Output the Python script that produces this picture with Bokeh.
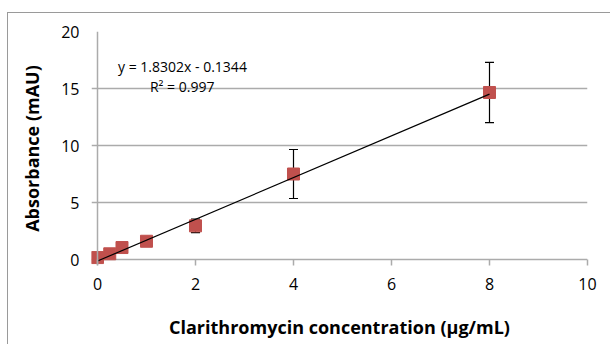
from bokeh.plotting import figure
from bokeh.layouts import column
from bokeh.models import ColumnDataSource, Whisker, TeeHead, Label, Range1d, FixedTicker, Span
from bokeh.embed import file_html
from bokeh.resources import INLINE

# Data
conc = [0, 0.25, 0.5, 1, 2, 4, 8]
absorbance = [0.17, 0.5, 1.05, 1.6, 2.95, 7.5, 14.65]
err = [0.1, 0.1, 0.15, 0.2, 0.6, 2.15, 2.65]
x_ticks = [0, 2, 4, 6, 8, 10]
y_ticks = [0, 5, 10, 15, 20]
slope = 1.8302
intercept = -0.1344
fit_x = [0, 8]
eq_text = "y = 1.8302x - 0.1344"
r2_text = "R² = 0.997"

FONT = "Open Sans"
GRID = "#ABABAB"

# ranges padded by ~6px below/left of zero so the markers at zero are not clipped
p = figure(width=602, height=331, output_backend="svg", toolbar_location=None,
           x_range=Range1d(-0.1224, 10), y_range=Range1d(-0.526, 20),
           min_border_left=83, min_border_right=23, min_border_top=18, min_border_bottom=79)
p.outline_line_color = None
p.background_fill_color = "white"
p.border_fill_color = "white"

p.xgrid.grid_line_color = None
p.ygrid.grid_line_color = GRID
p.ygrid.grid_line_width = 1.5

for ax in (p.xaxis[0], p.yaxis[0]):
    ax.axis_line_color = None
    ax.major_tick_out = 0
    ax.minor_tick_line_color = None
    ax.major_label_text_font = FONT
    ax.major_label_text_font_size = "16px"
    ax.major_label_text_color = "black"
    ax.axis_label_text_font = FONT
    ax.axis_label_text_font_style = "bold"
    ax.axis_label_text_font_size = "18px"
    ax.axis_label_text_color = "black"

p.xaxis.major_tick_in = 6
p.xaxis.major_tick_line_color = GRID
p.xaxis.major_tick_line_width = 1.5
p.yaxis.major_tick_line_color = None

p.xaxis.ticker = FixedTicker(ticks=x_ticks)
p.yaxis.ticker = FixedTicker(ticks=y_ticks)
p.xaxis.major_label_standoff = 12
p.yaxis.major_label_standoff = 12
p.xaxis.axis_label = "Clarithromycin concentration (µg/mL)"
p.yaxis.axis_label = "Absorbance (mAU)"
p.xaxis.axis_label_standoff = 22
p.yaxis.axis_label_standoff = 14

# vertical axis line at x = 0
p.add_layout(Span(location=0, dimension="height", line_color=GRID, line_width=1.5))

upper = [a + e for a, e in zip(absorbance, err)]
lower = [a - e for a, e in zip(absorbance, err)]
src = ColumnDataSource(data=dict(x=conc, y=absorbance, upper=upper, lower=lower))

w = Whisker(source=src, base="x", upper="upper", lower="lower",
            line_color="black", line_width=1.2,
            upper_head=TeeHead(size=9, line_color="black", line_width=1.2),
            lower_head=TeeHead(size=9, line_color="black", line_width=1.2))
p.add_layout(w)

fit_y = [slope * x + intercept for x in fit_x]

p.scatter("x", "y", source=src, marker="square", size=12,
          fill_color="#C0504D", line_color="#C0504D")

p.line(fit_x, fit_y, line_color="black", line_width=1.2)

p.add_layout(Label(x=0.42, y=16.9, text=eq_text, text_font=FONT, text_font_size="14px",
                   text_baseline="middle", text_color="black"))
p.add_layout(Label(x=1.07, y=15.15, text=r2_text, text_font=FONT, text_font_size="14px",
                   text_baseline="middle", text_color="black"))

layout = column(p, styles={"border-left": "1px solid #9A9A9A",
                           "border-top": "1px solid #9A9A9A",
                           "margin-left": "7px", "margin-top": "12px"})

open("out.html", "w").write(file_html(layout, INLINE))
